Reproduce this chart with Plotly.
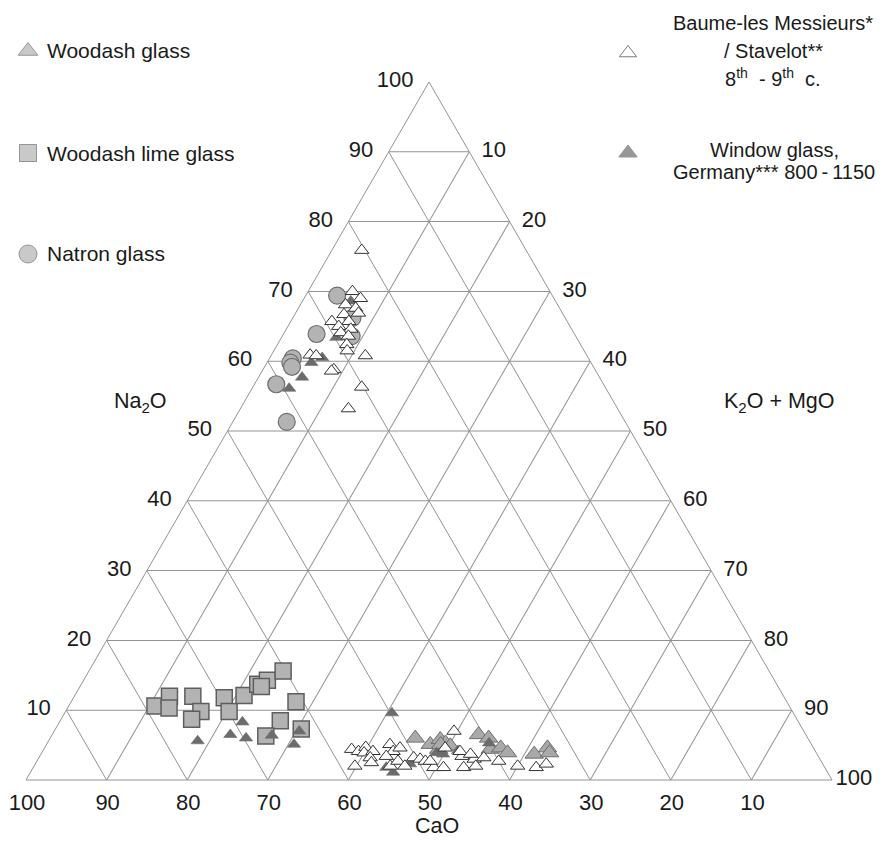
import plotly.graph_objects as go

# page is shown with an 8px body margin, so the figure starts at page (8, 8);
# all layout positions below are in figure pixels (page pixel - 8)
W, H = 878, 853

# ---------------- data (Na2O, CaO, K2O+MgO) ----------------
natron_na2o = [69.4, 63.9, 60.4, 59.8, 59.2, 56.7, 51.3, 66.2, 63.6]
natron_cao = [26.7, 32.0, 36.7, 37.3, 37.4, 40.6, 42.0, 26.4, 27.8]
natron_k2o_mgo = [3.9, 4.1, 2.9, 2.9, 3.4, 2.7, 6.7, 7.4, 8.6]

lime_na2o = [10.6, 12.0, 10.3, 12.0, 9.8, 8.7, 11.8, 9.8, 12.1, 13.7, 14.3, 15.6, 11.2, 8.5, 6.3, 7.3, 13.4]
lime_cao = [78.7, 76.2, 77.1, 73.3, 73.4, 75.1, 69.5, 69.9, 66.9, 64.4, 62.9, 60.3, 60.9, 64.2, 67.1, 62.2, 64.1]
lime_k2o_mgo = [10.7, 11.8, 12.6, 14.7, 16.8, 16.2, 18.7, 20.3, 21.0, 21.9, 22.8, 24.1, 27.9, 27.3, 26.6, 30.5, 22.5]

woodash_na2o = [6.0, 5.1, 5.8, 5.3, 4.4, 6.5, 6.0, 4.9, 4.4, 4.6, 3.9, 3.7, 4.6, 3.9, 5.1]
woodash_cao = [48.7, 47.3, 45.7, 45.3, 46.6, 40.6, 39.6, 44.9, 40.2, 38.8, 38.3, 35.1, 33.0, 33.1, 46.0]
woodash_k2o_mgo = [45.3, 47.6, 48.5, 49.4, 49.0, 52.9, 54.4, 50.2, 55.4, 56.6, 57.8, 61.2, 62.4, 63.0, 48.9]

window_na2o = [63.4, 59.8, 60.5, 57.7, 56.1, 68.6,
               5.6, 6.5, 8.3, 6.0, 6.4, 7.0, 5.1,
               9.6, 1.8, 1.1, 2.3, 3.9, 5.3, 3.7, 4.2]
window_cao = [29.8, 34.7, 33.0, 36.9, 39.3, 25.4,
              75.9, 71.4, 69.0, 69.7, 66.3, 62.6, 64.2,
              49.8, 54.4, 53.9, 51.2, 47.1, 39.9, 46.4, 44.3]
window_k2o_mgo = [6.8, 5.5, 6.5, 5.4, 4.6, 6.0,
                  18.5, 22.1, 22.7, 24.3, 27.3, 30.4, 30.7,
                  40.6, 43.8, 45.0, 46.5, 49.0, 54.8, 49.9, 51.5]

baume_na2o = [75.9, 70.0, 69.0, 68.1, 67.6, 66.7, 65.7, 66.9, 65.7, 65.0, 64.6, 64.1, 63.6, 62.4,
              61.5, 60.8, 60.9, 60.8, 58.8, 58.6, 56.3, 53.2,
              4.4, 4.1, 4.7, 3.9, 4.1, 3.2, 2.0, 2.5, 5.1, 4.1, 3.4, 2.0, 4.6, 2.7, 3.2, 2.0, 3.0,
              2.7, 1.8, 2.7, 7.0, 4.6, 3.4, 1.8, 3.0, 2.0, 3.2, 2.7, 4.1, 3.7, 2.0, 1.8, 2.3, 1.8]
baume_cao = [20.4, 24.5, 24.0, 26.3, 25.3, 27.2, 29.2, 25.3, 27.1, 28.7, 27.4, 28.9, 28.2, 29.0,
             29.4, 27.5, 34.3, 33.6, 32.4, 32.8, 30.2, 33.4,
             57.4, 56.7, 55.5, 56.1, 54.9, 55.7, 58.2, 55.9, 52.3, 52.4, 53.6, 53.8, 51.3, 52.5, 50.3, 52.0, 49.6,
             49.1, 48.5, 48.5, 43.4, 45.7, 44.2, 44.8, 42.9, 43.2, 41.6, 40.0, 44.1, 43.0, 38.0, 35.8, 34.3, 47.3]
baume_k2o_mgo = [3.7, 5.5, 7.0, 5.6, 7.1, 6.1, 5.1, 7.8, 7.2, 6.3, 8.0, 7.0, 8.2, 8.6,
                 9.1, 11.7, 4.8, 5.6, 8.8, 8.6, 13.5, 13.4,
                 38.2, 39.2, 39.8, 40.0, 41.0, 41.1, 39.8, 41.6, 42.6, 43.5, 43.0, 44.2, 44.1, 44.8, 46.5, 46.0, 47.4,
                 48.2, 49.7, 48.8, 49.6, 49.7, 52.4, 53.4, 54.1, 54.8, 55.2, 57.3, 51.8, 53.3, 60.0, 62.4, 63.4, 50.9]

tick_values = [10, 20, 30, 40, 50, 60, 70, 80, 90, 100]
tick_text = ["10", "20", "30", "40", "50", "60", "70", "80", "90", "100"]

legend_left = ["Woodash glass", "Woodash lime glass", "Natron glass"]
legend_right_1 = ["Baume-les Messieurs*", "/ Stavelot**", "8<sup>th</sup>  - 9<sup>th</sup>  c."]
legend_right_2 = ["Window glass,", "Germany*** 800\u2009-\u20091150"]
axis_titles = ["Na<sub>2</sub>O", "CaO", "K<sub>2</sub>O + MgO"]

FONT = "Liberation Sans, Arial, Helvetica, sans-serif"
TXT = "#1a1a1a"
GRID = "#939393"

fig = go.Figure()

fig.add_trace(go.Scatterternary(
    a=lime_na2o, b=lime_cao, c=lime_k2o_mgo, mode="markers", showlegend=False,
    marker=dict(symbol="square", size=16, color="#b3b3b3", line=dict(color="#5e5e5e", width=1.5))))
fig.add_trace(go.Scatterternary(
    a=natron_na2o, b=natron_cao, c=natron_k2o_mgo, mode="markers", showlegend=False,
    marker=dict(symbol="circle", size=17, color="#b3b3b3", line=dict(color="#6e6e6e", width=1.2))))
fig.add_trace(go.Scatterternary(
    a=woodash_na2o, b=woodash_cao, c=woodash_k2o_mgo, mode="markers", showlegend=False,
    marker=dict(symbol="triangle-up", size=16, color="#a9a9a9", line=dict(color="#6e6e6e", width=1))))
fig.add_trace(go.Scatterternary(
    a=window_na2o, b=window_cao, c=window_k2o_mgo, mode="markers", showlegend=False,
    marker=dict(symbol="triangle-up", size=11.5, color="#6c6c6c", line=dict(color="#6c6c6c", width=0.6))))
fig.add_trace(go.Scatterternary(
    a=baume_na2o, b=baume_cao, c=baume_k2o_mgo, mode="markers", showlegend=False,
    marker=dict(symbol="triangle-up", size=12.5, color="#ffffff", line=dict(color="#333333", width=1))))

# legend keys on a hidden pixel-space cartesian axis
fig.add_trace(go.Scatter(
    x=[20, 20, 20, 620, 620], y=[43, 145, 246, 45, 145], mode="markers", showlegend=False,
    hoverinfo="skip",
    marker=dict(symbol=["triangle-up", "square", "circle", "triangle-up", "triangle-up"],
                size=[17, 17, 18, 15, 16],
                color=["#b3b3b3", "#b3b3b3", "#b3b3b3", "#ffffff", "#6c6c6c"],
                line=dict(color=["#6a6a6a", "#6a6a6a", "#6a6a6a", "#444444", "#6c6c6c"], width=1))))

def axis_style(ticklen, prefix=""):
    labels = [prefix + t if t != "100" else t for t in tick_text]
    return dict(
        tickvals=tick_values, ticktext=labels,
        ticks="outside", ticklen=ticklen,
        tickcolor="rgba(0,0,0,0)", showgrid=True,
        gridcolor=GRID, gridwidth=1, showline=True, linecolor=GRID, linewidth=1,
        tickfont=dict(family=FONT, size=22, color=TXT), title=dict(text=""), min=0,
    )

fig.update_layout(
    width=W, height=H,
    margin=dict(l=0, r=0, t=0, b=0),
    paper_bgcolor="white", plot_bgcolor="rgba(0,0,0,0)",
    font=dict(family=FONT, color=TXT, size=21),
    ternary=dict(
        sum=100,
        domain=dict(x=[18 / W, 824 / W], y=[1 - 772 / H, 1 - 74 / H]),
        bgcolor="white",
        aaxis=axis_style(12), baxis=axis_style(2), caxis=axis_style(0, "\u2009\u2009"),
    ),
    xaxis=dict(range=[0, W], visible=False, domain=[0, 1], fixedrange=True),
    yaxis=dict(range=[H, 0], visible=False, domain=[0, 1], fixedrange=True),
)

ann = []
for label, py in zip(legend_left, [43, 145, 246]):
    ann.append(dict(x=37 / W, y=1 - py / H, text=label, xanchor="left", yanchor="middle", size=21))
for label, py in zip(legend_right_1, [15, 43, 70]):
    ann.append(dict(x=765 / W, y=1 - py / H, text=label, xanchor="center", yanchor="middle", size=20))
for label, py in zip(legend_right_2, [142, 164]):
    ann.append(dict(x=766 / W, y=1 - py / H, text=label, xanchor="center", yanchor="middle", size=20))
for label, (px, py) in zip(axis_titles, [(132, 394), (429, 818), (771, 394)]):
    ann.append(dict(x=px / W, y=1 - py / H, text=label, xanchor="center", yanchor="middle", size=21.5))
for a_ in ann:
    fs = a_.pop("size")
    a_.update(xref="paper", yref="paper", showarrow=False,
              font=dict(family=FONT, size=fs, color=TXT))
fig.update_layout(annotations=ann)

fig.write_html("out.html")
